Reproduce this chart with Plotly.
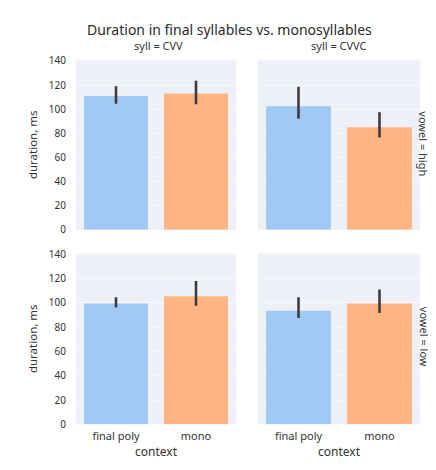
import plotly.graph_objects as go

contexts = ["final poly", "mono"]
sylls = ["CVV", "CVVC"]
vowels = ["high", "low"]

# means and CI bounds per (vowel, syll)
mean_high_cvv = [111, 113]
lo_high_cvv = [104.5, 104]
hi_high_cvv = [119, 123.5]

mean_high_cvvc = [102.5, 85]
lo_high_cvvc = [92, 76.5]
hi_high_cvvc = [118.5, 97.5]

mean_low_cvv = [99.5, 105.5]
lo_low_cvv = [96.3, 97.6]
hi_low_cvv = [104.8, 118]

mean_low_cvvc = [93.5, 99.5]
lo_low_cvvc = [87.7, 91.7]
hi_low_cvvc = [104.8, 111]

y_ticks = [0, 20, 40, 60, 80, 100, 120, 140]

panels = [
    ("high", "CVV", mean_high_cvv, lo_high_cvv, hi_high_cvv),
    ("high", "CVVC", mean_high_cvvc, lo_high_cvvc, hi_high_cvvc),
    ("low", "CVV", mean_low_cvv, lo_low_cvv, hi_low_cvv),
    ("low", "CVVC", mean_low_cvvc, lo_low_cvvc, hi_low_cvvc),
]

colors = ["#a1c9f4", "#ffb482"]
W, H = 436, 470
FONT = "Noto Sans"
TXT = "#333333"

xdom = [(68 / W, 228 / W), (250 / W, 412 / W)]
ydom = [(1 - 222 / H, 1 - 47 / H), (1 - 422 / H, 1 - 246 / H)]

fig = go.Figure()
layout = {}
for i, (v, s, m, lo, hi) in enumerate(panels):
    r = vowels.index(v)
    c = sylls.index(s)
    n = i + 1
    xa = "x" if n == 1 else f"x{n}"
    ya = "y" if n == 1 else f"y{n}"
    fig.add_trace(go.Bar(
        x=contexts, y=m,
        marker=dict(color=colors, line=dict(width=0)),
        error_y=dict(type="data", symmetric=False,
                     array=[h - mm for h, mm in zip(hi, m)],
                     arrayminus=[mm - l for l, mm in zip(lo, m)],
                     color="#3c3c3c", thickness=2.6, width=0),
        xaxis=xa, yaxis=ya, showlegend=False, width=0.8,
    ))
    xkey = "xaxis" if n == 1 else f"xaxis{n}"
    ykey = "yaxis" if n == 1 else f"yaxis{n}"
    layout[xkey] = dict(
        domain=xdom[c], anchor=ya, type="category",
        categoryorder="array", categoryarray=contexts,
        showgrid=False, zeroline=False, showline=False, ticks="",
        showticklabels=(r == 1), ticklabelstandoff=4,
        tickfont=dict(family=FONT, size=11, color=TXT),
        title=dict(text="context" if r == 1 else "",
                   font=dict(family=FONT, size=12, color=TXT), standoff=3),
        range=[-0.5, 1.5],
    )
    layout[ykey] = dict(
        domain=ydom[r], anchor=xa, range=[0, 141],
        tickvals=y_ticks, showgrid=True, gridcolor="#f6f7fb", gridwidth=1,
        zeroline=False, showline=False, ticks="",
        showticklabels=(c == 0), ticklabelstandoff=9,
        tickfont=dict(family=FONT, size=10, color=TXT),
        title=dict(text="duration, ms" if c == 0 else "",
                   font=dict(family=FONT, size=11.5, color=TXT), standoff=8),
    )

annotations = [
    dict(text="Duration in final syllables vs. monosyllables", x=222 / W, y=1 - 16 / H,
         xref="paper", yref="paper", showarrow=False,
         font=dict(family=FONT, size=14, color="#2a2a2a"), xanchor="center", yanchor="middle"),
    dict(text="syll = CVV", x=150 / W, y=1 - 32 / H, xref="paper", yref="paper",
         showarrow=False, font=dict(family=FONT, size=11, color=TXT),
         xanchor="center", yanchor="middle"),
    dict(text="syll = CVVC", x=331 / W, y=1 - 32 / H, xref="paper", yref="paper",
         showarrow=False, font=dict(family=FONT, size=11, color=TXT),
         xanchor="center", yanchor="middle"),
    dict(text="vowel = high", x=416 / W, y=1 - 133 / H, xref="paper", yref="paper",
         showarrow=False, textangle=90, font=dict(family=FONT, size=11, color=TXT),
         xanchor="center", yanchor="middle"),
    dict(text="vowel = low", x=416 / W, y=1 - 332 / H, xref="paper", yref="paper",
         showarrow=False, textangle=90, font=dict(family=FONT, size=11, color=TXT),
         xanchor="center", yanchor="middle"),
]

fig.update_layout(
    width=W, height=H,
    margin=dict(l=0, r=0, t=0, b=0),
    paper_bgcolor="white", plot_bgcolor="#eef0f8",
    bargap=0.2, annotations=annotations,
    font=dict(family=FONT, color=TXT),
    **layout,
)

fig.write_html("out.html")
